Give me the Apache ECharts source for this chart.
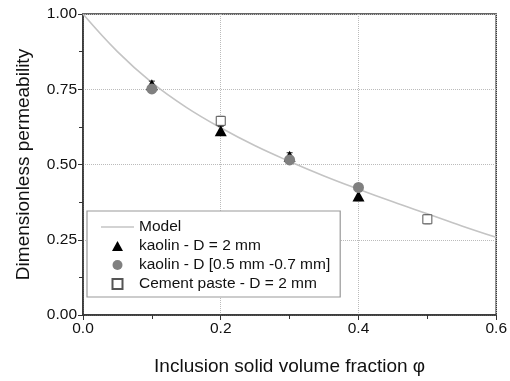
<!DOCTYPE html>
<html><head><meta charset="utf-8">
<script src="https://cdn.jsdelivr.net/npm/echarts@6/dist/echarts.min.js"></script>
<style>html,body{margin:0;padding:0;background:#fff}#c{width:510px;height:381px}</style>
</head><body><div id="c"></div>
<script>
// Model curve
const modelX = [0, 0.05, 0.1, 0.15, 0.2, 0.25, 0.3, 0.35, 0.4, 0.45, 0.5, 0.55, 0.6];
const modelY = [1.0, 0.875, 0.772, 0.69, 0.622, 0.562, 0.51, 0.462, 0.418, 0.376, 0.336, 0.296, 0.258];
// kaolin - D = 2 mm
const triX = [0.1, 0.2, 0.3, 0.4];
const triY = [0.765, 0.612, 0.527, 0.395];
const triErr = [0.012, 0.015, 0.012, 0.015];
// kaolin - D [0.5 mm -0.7 mm]
const cirX = [0.1, 0.3, 0.4];
const cirY = [0.751, 0.515, 0.424];
const cirErr = [0.012, 0.012, 0.012];
// Cement paste - D = 2 mm
const sqX = [0.2, 0.5];
const sqY = [0.645, 0.318];
const sqErr = [0.015, 0.015];
const xTicks = [0, 0.2, 0.4, 0.6];
const yTicks = [0, 0.25, 0.5, 0.75, 1.0];

const names = ['Model', 'kaolin - D = 2 mm', 'kaolin - D [0.5 mm -0.7 mm]', 'Cement paste - D = 2 mm'];
const zip = (a, b) => a.map((v, i) => [v, b[i]]);
const errData = (xs, ys, es) => xs.map((x, i) => [x, ys[i] - es[i], ys[i] + es[i]]);

function errSeries(xs, ys, es, color) {
  return {
    type: 'custom', silent: true, z: 3,
    data: errData(xs, ys, es),
    renderItem: function (params, api) {
      const x = api.value(0);
      const lo = api.coord([x, api.value(1)]);
      const hi = api.coord([x, api.value(2)]);
      const w = 3;
      return {
        type: 'group', children: [
          {type: 'line', shape: {x1: lo[0], y1: lo[1], x2: hi[0], y2: hi[1]}, style: {stroke: color, lineWidth: 1}},
          {type: 'line', shape: {x1: lo[0] - w, y1: lo[1], x2: lo[0] + w, y2: lo[1]}, style: {stroke: color, lineWidth: 1}},
          {type: 'line', shape: {x1: hi[0] - w, y1: hi[1], x2: hi[0] + w, y2: hi[1]}, style: {stroke: color, lineWidth: 1}}
        ]
      };
    }
  };
}

const chart = echarts.init(document.getElementById('c'), null, {renderer: 'canvas'});
const font = 'Liberation Sans, Arial, sans-serif';
chart.setOption({
  animation: false,
  textStyle: {fontFamily: font},
  grid: {left: 83, right: 13, top: 14, bottom: 64, show: true, borderColor: '#333', borderWidth: 1.5, backgroundColor: 'transparent'},
  xAxis: {
    type: 'value', min: 0, max: 0.6, interval: 0.2,
    name: 'Inclusion solid volume fraction φ', nameLocation: 'middle', nameGap: 42,
    nameTextStyle: {fontSize: 19, color: '#111', fontFamily: font},
    axisLine: {show: true, lineStyle: {color: '#333', width: 1.5}},
    axisTick: {show: true, inside: false, length: 5, lineStyle: {color: '#333'}},
    minorTick: {show: true, splitNumber: 2, length: 4, lineStyle: {color: '#333'}},
    axisLabel: {fontSize: 15.5, color: '#111', margin: 6, formatter: v => xTicks.includes(+v.toFixed(2)) ? v.toFixed(1) : ''},
    splitLine: {show: true, lineStyle: {color: '#bbb', type: 'dotted', width: 1}}
  },
  yAxis: {
    type: 'value', min: 0, max: 1, interval: 0.25,
    name: 'Dimensionless permeability', nameLocation: 'middle', nameGap: 50,
    nameTextStyle: {fontSize: 19, color: '#111', fontFamily: font},
    axisLine: {show: true, lineStyle: {color: '#333', width: 1.5}},
    axisTick: {show: true, inside: false, length: 5, lineStyle: {color: '#333'}},
    minorTick: {show: true, splitNumber: 2, length: 4, lineStyle: {color: '#333'}},
    axisLabel: {fontSize: 15.5, color: '#111', margin: 6, formatter: v => yTicks.includes(+v.toFixed(2)) ? v.toFixed(2) : ''},
    splitLine: {show: true, lineStyle: {color: '#bbb', type: 'dotted', width: 1}}
  },
  legend: {
    orient: 'vertical', left: 87, top: 211,
    backgroundColor: '#fff', borderColor: '#999', borderWidth: 1.2,
    padding: [8, 10, 5, 14],
    itemWidth: 33, itemHeight: 10, itemGap: 3,
    symbolKeepAspect: true,
    textStyle: {fontSize: 15.5, color: '#111', fontFamily: font},
    data: [
      {name: names[0], icon: 'path://M0,0L33,0L33,1.4L0,1.4Z', itemStyle: {color: '#c4c4c4'}},
      {name: names[1], icon: 'path://M5.5,0L11,10L0,10Z'},
      {name: names[2], icon: 'circle'},
      {name: names[3], icon: 'path://M0,0L9,0L9,9L0,9Z'}
    ]
  },
  series: [
    {
      name: names[0], type: 'line', smooth: 0.4, showSymbol: false, z: 2,
      data: zip(modelX, modelY),
      lineStyle: {color: '#c4c4c4', width: 1.6}, itemStyle: {color: '#c4c4c4'}
    },
    errSeries(triX, triY, triErr, '#222'),
    errSeries(cirX, cirY, cirErr, '#888'),
    errSeries(sqX, sqY, sqErr, '#666'),
    {
      name: names[1], type: 'scatter', symbol: 'triangle', symbolSize: [12, 11], z: 4,
      data: zip(triX, triY), itemStyle: {color: '#000', opacity: 1}
    },
    {
      name: names[2], type: 'scatter', symbol: 'circle', symbolSize: 11, z: 5,
      data: zip(cirX, cirY), itemStyle: {color: '#808080', opacity: 1}
    },
    {
      name: names[3], type: 'scatter', symbol: 'rect', symbolSize: 9, z: 6,
      data: zip(sqX, sqY), itemStyle: {color: '#fff', borderColor: '#555', borderWidth: 1, opacity: 1}
    }
  ]
});
</script>
</body></html>
